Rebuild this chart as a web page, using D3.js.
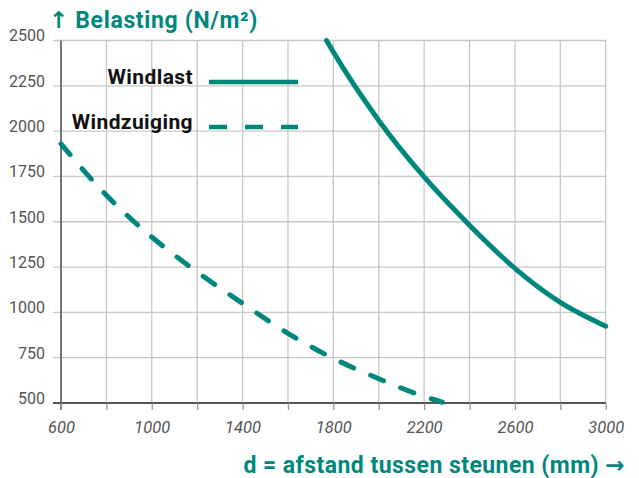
<!DOCTYPE html>
<html><head><meta charset="utf-8">
<script src="https://cdn.jsdelivr.net/npm/d3@7"></script>
<style>
html,body{margin:0;padding:0;background:#fff;}
svg{display:block;font-family:Roboto,"Noto Sans",sans-serif;}
</style></head>
<body><svg id="c" width="639" height="478"></svg>
<script>
// ---- data ----
const xTicks = [600, 1000, 1400, 1800, 2200, 2600, 3000];
const xGrid = [600, 800, 1000, 1200, 1400, 1600, 1800, 2000, 2200, 2400, 2600, 2800, 3000];
const yTicks = [500, 750, 1000, 1250, 1500, 1750, 2000, 2250, 2500];
const windlastD = [1770, 1800, 2000, 2200, 2400, 2600, 2800, 3000];
const windlastV = [2500, 2436, 2059, 1747, 1481, 1243, 1055, 924];
const zuigingD = [600, 800, 1000, 1200, 1400, 1600, 1800, 2000, 2200, 2280];
const zuigingV = [1930, 1646, 1416, 1223, 1050, 884, 746, 634, 536, 505];
const seriesNames = ["Windlast", "Windzuiging"];
const yTitle = ["↑", " Belasting (N/m²)"];
const xTitle = ["d = afstand tussen steunen (mm) ", "→"];

const teal = "#00877c";
const svg = d3.select("#c");
const x = d3.scaleLinear().domain([600, 3000]).range([61, 605.7]);
const y = d3.scaleLinear().domain([500, 2500]).range([403, 40.5]);

// grid
const g = svg.append("g");
g.selectAll(".vg").data(xGrid).join("line")
  .attr("x1", d => x(d)).attr("x2", d => x(d))
  .attr("y1", y(2500)).attr("y2", y(500))
  .attr("stroke", "#c8c8c8").attr("stroke-width", 1.3);
g.selectAll(".hg").data(yTicks).join("line")
  .attr("x1", 53).attr("x2", x(3000))
  .attr("y1", d => y(d)).attr("y2", d => y(d))
  .attr("stroke", "#c8c8c8").attr("stroke-width", 1.3);

// y axis
const ya = svg.append("g").attr("transform", `translate(${x(600)},0)`)
  .call(d3.axisLeft(y).tickValues(yTicks).tickSize(0).tickPadding(16).tickSizeOuter(0)
    .tickFormat(d3.format("d")));
ya.select(".domain").attr("stroke", "#555").attr("stroke-width", 1.5)
  .attr("d", `M0,${y(2500)}V${y(500) + 7}`);
ya.selectAll("text").attr("dy", "0.02em").attr("fill", "#555")
  .style("font-size", "16px").style("font-family", "Roboto");

// x axis
const xa = svg.append("g").attr("transform", `translate(0,${y(500)})`)
  .call(d3.axisBottom(x).tickValues(xGrid).tickSize(7).tickSizeOuter(0)
    .tickFormat(d => xTicks.includes(d) ? d : ""));
xa.select(".domain").attr("stroke", "#555").attr("stroke-width", 1.8)
  .attr("d", `M53,0H${x(3000)}`);
xa.selectAll(".tick line").attr("stroke", "#999").attr("stroke-width", 1.3);
xa.selectAll("text").attr("y", 30).attr("dy", 0).attr("fill", "#555")
  .style("font-size", "16.5px").style("font-style", "italic").style("font-family", "Roboto");

// curves
const line = d3.line().x(d => x(d[0])).y(d => y(d[1])).curve(d3.curveMonotoneX);
svg.append("path").datum(d3.zip(windlastD, windlastV)).attr("d", line)
  .attr("fill", "none").attr("stroke", teal).attr("stroke-width", 5).attr("stroke-linecap", "round");
svg.append("path").datum(d3.zip(zuigingD, zuigingV)).attr("d", line)
  .attr("fill", "none").attr("stroke", teal).attr("stroke-width", 5).attr("stroke-linecap", "round")
  .attr("stroke-dasharray", "14,18.5");

// legend
const leg = svg.append("g");
[0, 1].forEach(i => {
  const ly = 82 + i * 45;
  leg.append("text").attr("x", 193).attr("y", ly + 1.5).attr("text-anchor", "end")
    .style("font-size", "21px").style("font-weight", "bold").style("letter-spacing", "0.4px")
    .attr("fill", "#111").text(seriesNames[i]);
  leg.append("line").attr("x1", 209).attr("x2", 298).attr("y1", ly).attr("y2", ly)
    .attr("stroke", teal).attr("stroke-width", 4.5)
    .attr("stroke-dasharray", i ? "18,18" : null);
});

// titles
const t1 = svg.append("text").attr("x", 49).attr("y", 28).attr("fill", teal)
  .style("font-size", "23px").style("font-weight", "bold").style("letter-spacing", "0.65px");
t1.append("tspan").style("font-family", "DejaVu Sans").text(yTitle[0]);
t1.append("tspan").text(yTitle[1]);
const t2 = svg.append("text").attr("x", 625).attr("y", 473).attr("text-anchor", "end").attr("fill", teal)
  .style("font-size", "23px").style("font-weight", "bold").style("letter-spacing", "0.45px");
t2.append("tspan").text(xTitle[0]);
t2.append("tspan").style("font-family", "DejaVu Sans").text(xTitle[1]);
</script></body></html>
